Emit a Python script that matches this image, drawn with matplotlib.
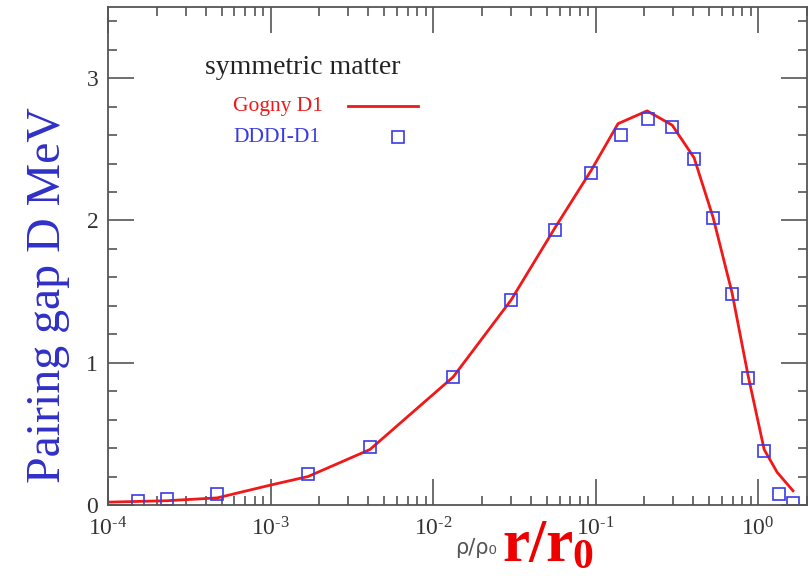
import matplotlib
matplotlib.use("Agg")
import matplotlib.pyplot as plt
import numpy as np

plt.rcParams['font.family'] = ['Liberation Serif', 'DejaVu Serif']
plt.rcParams['mathtext.fontset'] = 'custom'
plt.rcParams['mathtext.rm'] = 'Liberation Serif'
plt.rcParams['mathtext.it'] = 'Liberation Serif:italic'
plt.rcParams['mathtext.bf'] = 'Liberation Serif:bold'
plt.rcParams['axes.unicode_minus'] = False

# Gogny D1 gap curve
gogny_rho = [1e-4, 2.3e-4, 4.7e-4, 1.0e-3, 1.70e-3, 4.09e-3, 0.0133, 0.0302,
             0.0564, 0.0938, 0.1375, 0.2075, 0.296, 0.404, 0.529, 0.692,
             0.868, 1.09, 1.31, 1.64]
gogny_gap = [0.02, 0.03, 0.05, 0.14, 0.20, 0.39, 0.90, 1.44,
             1.95, 2.35, 2.68, 2.77, 2.67, 2.44, 2.02, 1.49,
             0.91, 0.39, 0.23, 0.10]

# DDDI-D1 points
dddi_rho = [1.53e-4, 2.31e-4, 4.69e-4, 1.70e-3, 4.09e-3, 0.0133, 0.0302,
            0.0564, 0.0938, 0.1436, 0.2105, 0.296, 0.404, 0.529, 0.692,
            0.868, 1.09, 1.35, 1.64]
dddi_gap = [0.028, 0.042, 0.077, 0.22, 0.41, 0.90, 1.44,
            1.93, 2.33, 2.60, 2.71, 2.66, 2.43, 2.02, 1.48,
            0.89, 0.38, 0.08, 0.015]

# decade tick labels, hyphen as the sign
xtick_pos = [1e-4, 1e-3, 1e-2, 1e-1, 1e0]
xtick_labels = ['10$^{\\mathrm{-4}}$', '10$^{\\mathrm{-3}}$', '10$^{\\mathrm{-2}}$',
                '10$^{\\mathrm{-1}}$', '10$^{\\mathrm{0}}$']

red = '#f01818'
blue = '#3a3ae8'
W, H = 808, 576

fig = plt.figure(figsize=(8.08, 5.76), dpi=100)
ax = fig.add_axes([108 / W, 1 - 505 / H, (807 - 108) / W, (505 - 7) / H])

ax.plot(gogny_rho, gogny_gap, color=red, lw=2.0)
ax.plot(dddi_rho, dddi_gap, ls='none', marker='s', ms=8, mfc='none',
        mec=blue, mew=1.2)

ax.set_xscale('log')
ax.set_xlim(1e-4, 2)
ax.set_xticks(xtick_pos)
ax.set_xticklabels([t.replace('-', '\u2010') for t in xtick_labels])
ax.set_ylim(0, 3.5)
ax.set_yticks([0, 1, 2, 3])
ax.set_yticks(np.arange(0, 3.5, 0.2), minor=True)

for s in ax.spines.values():
    s.set_color('#555555')
    s.set_linewidth(1.3)
ax.tick_params(which='both', direction='in', top=True, right=True,
               color='#555555', width=1.2, labelcolor='#333333',
               labelsize=17)
ax.tick_params(which='major', length=19)
ax.tick_params(which='minor', length=6.5)
ax.tick_params(axis='x', pad=9)
ax.tick_params(axis='y', pad=7)

# legend block drawn by hand
ax.text(205 / W, 1 - 68 / H, 'symmetric matter', transform=fig.transFigure,
        fontsize=20, color='#222222', va='center', ha='left')
ax.text(233 / W, 1 - 106 / H, 'Gogny D1', transform=fig.transFigure,
        fontsize=15.5, color=red, va='center', ha='left')
ax.text(233 / W, 1 - 137 / H, 'DDDI-D1', transform=fig.transFigure,
        fontsize=15.5, color=blue, va='center', ha='left')
fig.add_artist(plt.Line2D([348 / W, 418 / W], [1 - 106 / H, 1 - 106 / H],
                          color=red, lw=2.0, transform=fig.transFigure))
fig.add_artist(plt.Line2D([398 / W], [1 - 137 / H], marker='s', ms=8,
                          mfc='none', mec=blue, mew=1.2,
                          transform=fig.transFigure))

# axis titles
fig.text(48 / W, 1 - 295 / H, 'Pairing gap D MeV', rotation=90,
         fontsize=34.5, color='#3030c8', ha='center', va='center')
fig.text(455 / W, 1 - 548 / H, 'ρ/ρ₀', family='DejaVu Sans',
         fontsize=15, color='#555555', ha='left', va='center')
fig.text(502 / W, 1 - 561 / H, 'r/r', fontsize=44, fontweight='bold',
         color='#ee0000', ha='left', va='baseline')
fig.text(572 / W, 1 - 568 / H, '0', fontsize=30, fontweight='bold',
         color='#ee0000', ha='left', va='baseline')

fig.savefig('out.png', dpi=100)
